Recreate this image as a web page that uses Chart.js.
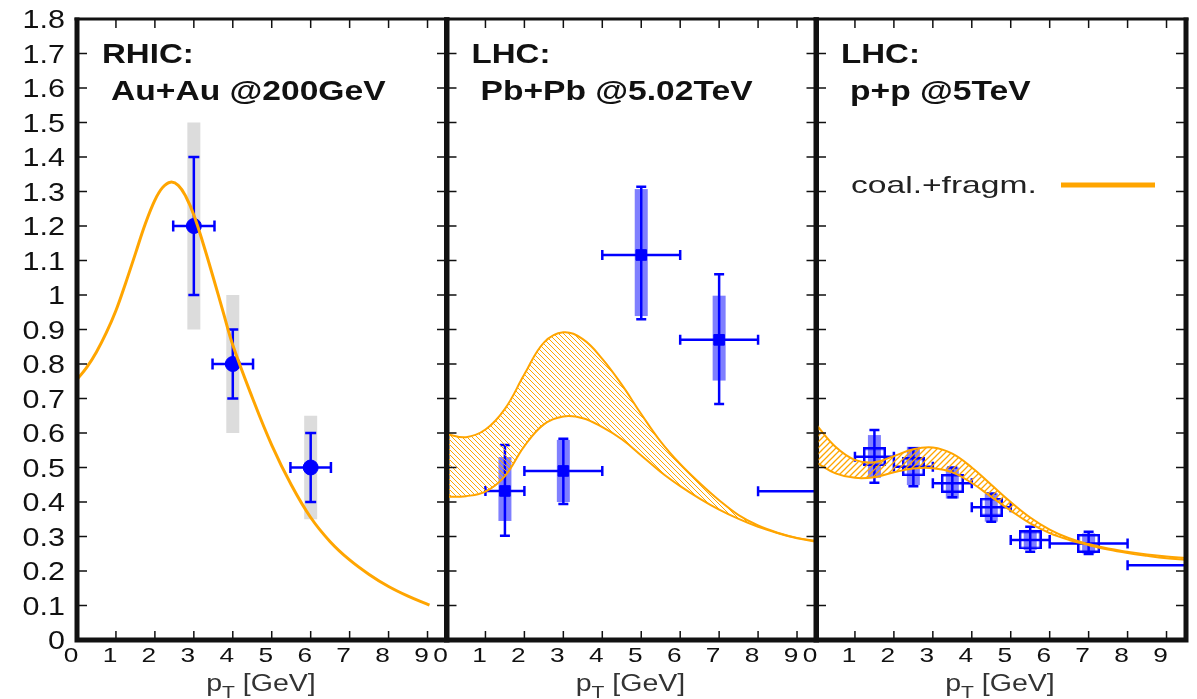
<!DOCTYPE html>
<html>
<head>
<meta charset="utf-8">
<script src="https://cdn.jsdelivr.net/npm/chart.js@4.4.0/dist/chart.umd.min.js"></script>
<style>
  html, body { margin: 0; padding: 0; background: #fff; }
  #wrap { position: relative; width: 1197px; height: 699px; }
  #wrap canvas { position: absolute; left: 0; top: 0; }
</style>
</head>
<body>
<div id="wrap">
  <canvas id="rhic" width="1197" height="699"></canvas>
  <canvas id="pbpb" width="1197" height="699"></canvas>
  <canvas id="pp" width="1197" height="699"></canvas>
</div>
<script>
/* shared axes */
const xTicks = [0, 1, 2, 3, 4, 5, 6, 7, 8, 9];
const xTickLabels = ['0', '1', '2', '3', '4', '5', '6', '7', '8', '9'];
const yTicks = [0, 0.1, 0.2, 0.3, 0.4, 0.5, 0.6, 0.7, 0.8, 0.9, 1, 1.1, 1.2, 1.3, 1.4, 1.5, 1.6, 1.7, 1.8];
const yTickLabels = ['0', '0.1', '0.2', '0.3', '0.4', '0.5', '0.6', '0.7', '0.8', '0.9', '1', '1.1', '1.2', '1.3', '1.4', '1.5', '1.6', '1.7', '1.8'];

/* RHIC Au+Au 200 GeV */
const rhicCurveX = [0, 0.25, 0.5, 0.75, 1.0, 1.25, 1.5, 1.75, 2.0, 2.2, 2.4, 2.6, 2.8, 3.0, 3.25, 3.5, 3.75, 4.0, 4.5, 5.0, 5.5, 6.0, 6.5, 7.0, 7.5, 8.0, 8.5, 9.05];
const rhicCurveY = [0.755, 0.79, 0.835, 0.89, 0.955, 1.035, 1.12, 1.205, 1.275, 1.312, 1.327, 1.318, 1.284, 1.232, 1.145, 1.05, 0.952, 0.855, 0.703, 0.565, 0.45, 0.355, 0.285, 0.232, 0.19, 0.155, 0.127, 0.101];
const rhicX = [3, 4, 6];
const rhicY = [1.2, 0.8, 0.5];
const rhicXErr = [0.53, 0.52, 0.52];
const rhicYLo = [1.0, 0.7, 0.4];
const rhicYHi = [1.4, 0.9, 0.6];
const rhicSysLo = [0.9, 0.6, 0.35];
const rhicSysHi = [1.5, 1.0, 0.65];

/* LHC Pb+Pb 5.02 TeV */
const pbBandX = [0, 0.5, 1.0, 1.5, 2.0, 2.5, 3.0, 3.5, 4.0, 4.5, 5.0, 5.5, 6.0, 6.5, 7.0, 7.5, 8.0, 8.5, 9.0, 9.5];
const pbBandHi = [0.597, 0.588, 0.61, 0.67, 0.77, 0.862, 0.892, 0.872, 0.815, 0.74, 0.655, 0.575, 0.51, 0.455, 0.405, 0.362, 0.332, 0.311, 0.296, 0.287];
const pbBandLo = [0.415, 0.417, 0.43, 0.475, 0.562, 0.625, 0.648, 0.643, 0.617, 0.582, 0.535, 0.487, 0.446, 0.41, 0.378, 0.351, 0.328, 0.31, 0.295, 0.285];
const pbX = [1.5, 3, 5, 7, 10];
const pbY = [0.432, 0.49, 1.116, 0.87, 0.431];
const pbXErr = [0.5, 1, 1, 1, 2];
const pbYLo = [0.302, 0.394, 0.93, 0.684, 0.431];
const pbYHi = [0.565, 0.583, 1.314, 1.06, 0.431];
const pbSysLo = [0.345, 0.40, 0.939, 0.752, null];
const pbSysHi = [0.53, 0.58, 1.307, 0.998, null];

/* LHC p+p 5 TeV */
const ppBandX = [0, 0.5, 1.0, 1.5, 2.0, 2.5, 3.0, 3.5, 4.0, 4.5, 5.0, 5.5, 6.0, 6.5, 7.0, 7.5, 8.0, 8.5, 9.0, 9.5];
const ppBandHi = [0.625, 0.56, 0.522, 0.515, 0.533, 0.553, 0.558, 0.54, 0.50, 0.45, 0.40, 0.355, 0.32, 0.295, 0.278, 0.265, 0.256, 0.248, 0.242, 0.238];
const ppBandLo = [0.515, 0.483, 0.47, 0.472, 0.486, 0.497, 0.498, 0.486, 0.455, 0.415, 0.375, 0.338, 0.31, 0.29, 0.275, 0.262, 0.252, 0.244, 0.237, 0.232];
const ppX = [1.5, 2.5, 3.5, 4.5, 5.5, 7, 10];
const ppY = [0.531, 0.502, 0.454, 0.385, 0.29, 0.28, 0.217];
const ppXErr = [0.5, 0.5, 0.5, 0.5, 0.5, 1, 2];
const ppYLo = [0.456, 0.446, 0.414, 0.343, 0.256, 0.249, 0.217];
const ppYHi = [0.609, 0.556, 0.50, 0.425, 0.328, 0.314, 0.217];
const ppSysLo = [0.47, 0.449, 0.41, 0.343, 0.261, 0.251, null];
const ppSysHi = [0.594, 0.56, 0.50, 0.425, 0.319, 0.309, null];

/* look */
const W = 1197, H = 699;
const PLOT_TOP = 19, PLOT_BOTTOM = 640, PLOT_W = 370;
const BLUE = '#0000ff';
const ORANGE = '#ffa500';
const INK = '#111';
const FONT = '"Liberation Sans", Arial, sans-serif';
const TICK = 9;

const pts = (xs, ys) => xs.map((x, i) => ({ x: x, y: ys[i] }));

function stretchText(ctx, text, x, y, font, sx, align) {
    ctx.save();
    ctx.font = font;
    const w = ctx.measureText(text).width * sx;
    let x0 = x;
    if (align === 'center') x0 = x - w / 2;
    else if (align === 'right') x0 = x - w;
    ctx.translate(x0, y);
    ctx.scale(sx, 1);
    ctx.textAlign = 'left';
    ctx.textBaseline = 'alphabetic';
    ctx.fillText(text, 0, 0);
    ctx.restore();
    return w;
}

function hatch(ctx, dir, size, lw) {
    const c = document.createElement('canvas');
    c.width = size; c.height = size;
    const g = c.getContext('2d');
    g.strokeStyle = ORANGE;
    g.lineWidth = lw;
    g.beginPath();
    if (dir === '\\') {
        g.moveTo(-1, -1); g.lineTo(size + 1, size + 1);
        g.moveTo(-1, size - 1); g.lineTo(1, size + 1);
        g.moveTo(size - 1, -1); g.lineTo(size + 1, 1);
    } else {
        g.moveTo(-1, size + 1); g.lineTo(size + 1, -1);
        g.moveTo(-1, 1); g.lineTo(1, -1);
        g.moveTo(size - 1, size + 1); g.lineTo(size + 1, size - 1);
    }
    g.stroke();
    return ctx.createPattern(c, 'repeat');
}

function openSquare(w, h, lw) {
    const c = document.createElement('canvas');
    c.width = w; c.height = h;
    const g = c.getContext('2d');
    g.strokeStyle = BLUE;
    g.lineWidth = lw;
    g.strokeRect(lw / 2, lw / 2, w - lw, h - lw);
    return c;
}

// stat error bars and systematic boxes, under the datasets
function errorBars(e) {
    return {
        id: 'errorBars',
        beforeDatasetsDraw(chart) {
            const { ctx, chartArea: a, scales: { x, y } } = chart;
            ctx.save();
            ctx.beginPath();
            ctx.rect(a.left, a.top, a.right - a.left, a.bottom - a.top);
            ctx.clip();
            ctx.fillStyle = e.sysColor;
            e.x.forEach((xv, i) => {
                if (e.sysLo[i] == null) return;
                const px = x.getPixelForValue(xv);
                const t = y.getPixelForValue(e.sysHi[i]);
                const b = y.getPixelForValue(e.sysLo[i]);
                ctx.fillRect(px - e.sysHalf, t, 2 * e.sysHalf, b - t);
            });
            ctx.strokeStyle = BLUE;
            ctx.lineWidth = e.lw;
            ctx.beginPath();
            e.x.forEach((xv, i) => {
                const px = x.getPixelForValue(xv);
                const py = y.getPixelForValue(e.y[i]);
                const xl = x.getPixelForValue(xv - e.xErr[i]);
                const xr = x.getPixelForValue(xv + e.xErr[i]);
                ctx.moveTo(xl, py); ctx.lineTo(xr, py);
                ctx.moveTo(xl, py - e.cap); ctx.lineTo(xl, py + e.cap);
                ctx.moveTo(xr, py - e.cap); ctx.lineTo(xr, py + e.cap);
                if (e.yHi[i] !== e.yLo[i]) {
                    const yt = y.getPixelForValue(e.yHi[i]);
                    const yb = y.getPixelForValue(e.yLo[i]);
                    ctx.moveTo(px, yt); ctx.lineTo(px, yb);
                    ctx.moveTo(px - e.cap, yt); ctx.lineTo(px + e.cap, yt);
                    ctx.moveTo(px - e.cap, yb); ctx.lineTo(px + e.cap, yb);
                }
            });
            ctx.stroke();
            ctx.restore();
        }
    };
}

// frame, inward ticks, tick labels and texts
function frame(p) {
    return {
        id: 'frame',
        afterDraw(chart) {
            const { ctx, chartArea: a, scales: { x, y } } = chart;
            ctx.save();
            ctx.strokeStyle = INK;
            ctx.lineWidth = 1.5;
            ctx.beginPath();
            xTicks.forEach(v => {
                const px = x.getPixelForValue(v);
                if (px <= a.left + 1) return;
                ctx.moveTo(px, a.bottom); ctx.lineTo(px, a.bottom - TICK);
                ctx.moveTo(px, a.top); ctx.lineTo(px, a.top + TICK);
            });
            yTicks.forEach(v => {
                const py = y.getPixelForValue(v);
                if (py >= a.bottom - 1 || py <= a.top + 1) return;
                ctx.moveTo(a.left, py); ctx.lineTo(a.left + TICK + 1, py);
                ctx.moveTo(a.right, py); ctx.lineTo(a.right - TICK - 1, py);
            });
            ctx.stroke();

            ctx.lineWidth = 3;
            ctx.beginPath();
            ctx.moveTo(a.left - 2.5, a.top); ctx.lineTo(a.right + 2.5, a.top);
            ctx.stroke();
            ctx.lineWidth = 5;
            ctx.beginPath();
            ctx.moveTo(a.left - 2.5, a.bottom); ctx.lineTo(a.right + 2.5, a.bottom);
            ctx.moveTo(a.left, a.top - 1.5); ctx.lineTo(a.left, a.bottom);
            ctx.moveTo(a.right, a.top - 1.5); ctx.lineTo(a.right, a.bottom);
            ctx.stroke();

            ctx.fillStyle = INK;
            xTicks.forEach((v, i) => {
                stretchText(ctx, xTickLabels[i], x.getPixelForValue(v) - 6, 662, '21px ' + FONT, 1.25, 'center');
            });
            if (p.yLabels) {
                yTicks.forEach((v, i) => {
                    stretchText(ctx, yTickLabels[i], a.left - 12, y.getPixelForValue(v) + 9, '25px ' + FONT, 1.22, 'right');
                });
            }

            // panel title
            stretchText(ctx, p.title[0], a.left + 25, 63, 'bold 28px ' + FONT, 1.18, 'left');
            stretchText(ctx, p.title[1], a.left + 34, 100, 'bold 28px ' + FONT, 1.2, 'left');

            // axis title p_T [GeV]
            ctx.fillStyle = '#333';
            const sx = 1.24;
            ctx.font = '23px ' + FONT;
            const wP = ctx.measureText('p').width * sx;
            const wRest = ctx.measureText(' [GeV]').width * sx;
            ctx.font = '17px ' + FONT;
            const wT = ctx.measureText('T').width * sx;
            let cx = (a.left + a.right) / 2 - 1 - (wP + wT + wRest) / 2;
            cx += stretchText(ctx, 'p', cx, 691, '23px ' + FONT, sx, 'left');
            cx += stretchText(ctx, 'T', cx, 698, '17px ' + FONT, sx, 'left');
            stretchText(ctx, ' [GeV]', cx, 691, '23px ' + FONT, sx, 'left');

            if (p.legend) {
                ctx.fillStyle = '#222';
                stretchText(ctx, p.legend, a.left + 35, 193, '24px ' + FONT, 1.4, 'left');
                ctx.strokeStyle = ORANGE;
                ctx.lineWidth = 5;
                ctx.beginPath();
                ctx.moveTo(a.left + 245, 185); ctx.lineTo(a.left + 339, 185);
                ctx.stroke();
            }
            ctx.restore();
        }
    };
}

function makeChart(id, left, datasets, err, opts) {
    return new Chart(document.getElementById(id), {
        type: 'line',
        data: { datasets: datasets },
        options: {
            responsive: false,
            animation: false,
            events: [],
            layout: { padding: { left: left, right: W - left - PLOT_W, top: PLOT_TOP, bottom: H - PLOT_BOTTOM } },
            scales: {
                x: { type: 'linear', min: 0, max: 9.5, display: false },
                y: { type: 'linear', min: 0, max: 1.8, display: false }
            },
            plugins: { legend: { display: false }, tooltip: { enabled: false } }
        },
        plugins: [errorBars(err), frame(opts)]
    });
}

function curve(xs, ys, width, extra) {
    return Object.assign({
        data: pts(xs, ys),
        borderColor: ORANGE,
        borderWidth: width,
        pointRadius: 0,
        fill: false,
        tension: 0.4,
        order: 1
    }, extra || {});
}

// panel 1: RHIC
makeChart('rhic', 77, [
    {
        data: pts(rhicX, rhicY), showLine: false, pointStyle: 'circle', pointRadius: 7.5,
        pointBackgroundColor: BLUE, pointBorderColor: BLUE, pointBorderWidth: 1, clip: 2, order: 3
    },
    curve(rhicCurveX, rhicCurveY, 3)
], {
    x: rhicX, y: rhicY, xErr: rhicXErr, yLo: rhicYLo, yHi: rhicYHi,
    sysLo: rhicSysLo, sysHi: rhicSysHi, sysColor: '#dcdcdc', sysHalf: 6.5, lw: 2.5, cap: 5.5
}, { yLabels: true, title: ['RHIC:', 'Au+Au @200GeV'] });

// panel 2: Pb+Pb
const pbCanvas = document.getElementById('pbpb');
makeChart('pbpb', 446.5, [
    {
        data: pts(pbX, pbY), showLine: false, pointStyle: 'rect', pointRadius: 7.5,
        pointBackgroundColor: BLUE, pointBorderColor: BLUE, pointBorderWidth: 1, clip: 2, order: 3
    },
    curve(pbBandX, pbBandHi, 2),
    curve(pbBandX, pbBandLo, 2, { fill: '-1', backgroundColor: hatch(pbCanvas.getContext('2d'), '\\', 5, 1) })
], {
    x: pbX, y: pbY, xErr: pbXErr, yLo: pbYLo, yHi: pbYHi,
    sysLo: pbSysLo, sysHi: pbSysHi, sysColor: 'rgba(0,0,255,0.5)', sysHalf: 6.5, lw: 2.5, cap: 5
}, { title: ['LHC:', 'Pb+Pb @5.02TeV'] });

// panel 3: p+p
const ppCanvas = document.getElementById('pp');
makeChart('pp', 816, [
    {
        data: pts(ppX, ppY), showLine: false, pointStyle: openSquare(23, 19, 2.5), pointRadius: 10,
        clip: 2, order: 3
    },
    curve(ppBandX, ppBandHi, 2),
    curve(ppBandX, ppBandLo, 2, { fill: '-1', backgroundColor: hatch(ppCanvas.getContext('2d'), '/', 6, 1.3) })
], {
    x: ppX, y: ppY, xErr: ppXErr, yLo: ppYLo, yHi: ppYHi,
    sysLo: ppSysLo, sysHi: ppSysHi, sysColor: 'rgba(0,0,255,0.5)', sysHalf: 6.5, lw: 2.5, cap: 5
}, { title: ['LHC:', 'p+p @5TeV'], legend: 'coal.+fragm.' });
</script>
</body>
</html>
